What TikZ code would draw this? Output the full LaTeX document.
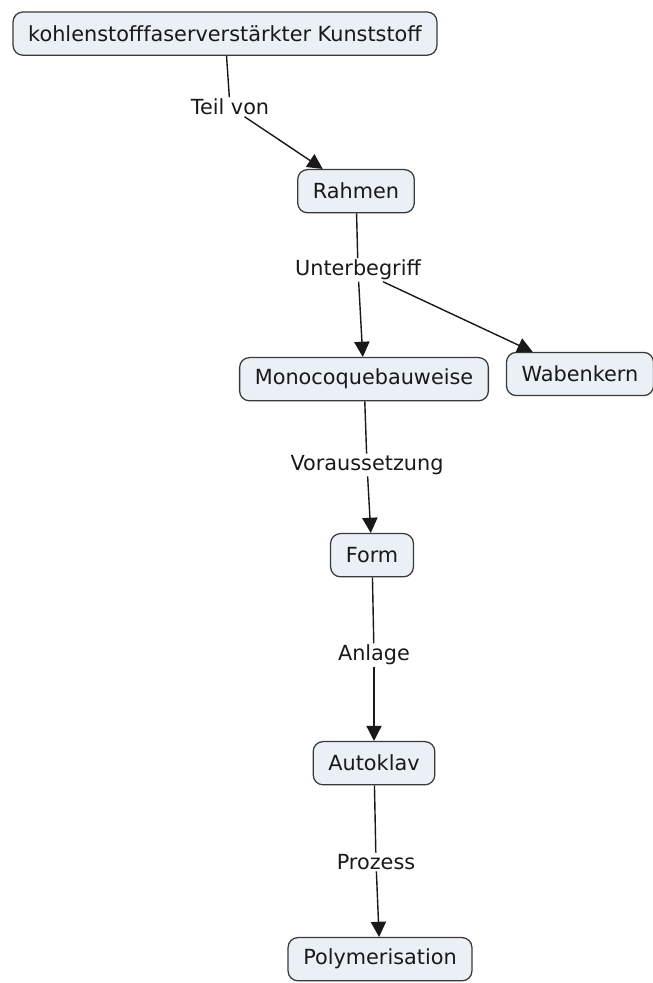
\documentclass[tikz,border=0pt]{standalone}
\usepackage{fontspec}
\setmainfont{DejaVu Sans}
\usepackage{tikz}
\usetikzlibrary{arrows.meta}

\definecolor{conceptfill}{HTML}{EAF0F5}
\definecolor{conceptline}{HTML}{3A3A3A}

\begin{document}
\begin{tikzpicture}[
  concept/.style={draw=conceptline, line width=0.9pt, fill=conceptfill, rounded corners=7pt,
    minimum height=1.08cm, inner xsep=0.38cm, font=\fontsize{14.8}{16}\selectfont, text=black!90},
  linking/.style={inner sep=1pt, font=\fontsize{14.8}{16}\selectfont, text=black!90},
  link/.style={line width=1pt, black!90},
  linkarrow/.style={link, -{Triangle[width=0.38cm,length=0.38cm]}}
]

% Frame
\useasboundingbox (0,0) rectangle (16.3,-24.575);

% Concepts
\node[concept] (kfk) at (5.625,-0.84) {kohlenstofffaserverstärkter Kunststoff};
\node[concept] (rahmen) at (8.9,-4.78) {Rahmen};
\node[concept] (mono) at (9.1,-9.48) {Monocoquebauweise};
\node[concept] (waben) at (14.5,-9.35) {Wabenkern};
\node[concept] (form) at (9.3,-13.88) {Form};
\node[concept] (autoklav) at (9.35,-19.08) {Autoklav};
\node[concept] (poly) at (9.5,-23.98) {Polymerisation};

% Linking phrases
\node[linking] (teilvon) at (5.75,-2.675) {Teil von};
\node[linking] (unterbegriff) at (8.95,-6.75) {Unterbegriff};
\node[linking] (voraus) at (9.175,-11.625) {Voraussetzung};
\node[linking] (anlage) at (9.35,-16.375) {Anlage};
\node[linking] (prozess) at (9.4,-21.55) {Prozess};

% Connectors
\draw[link] (kfk) -- (teilvon);
\draw[linkarrow] (teilvon) -- (rahmen);
\draw[link] (rahmen) -- (unterbegriff);
\draw[linkarrow] (unterbegriff) -- (mono);
\draw[linkarrow] (unterbegriff) -- (waben);
\draw[link] (mono) -- (voraus);
\draw[linkarrow] (voraus) -- (form);
\draw[link] (form) -- (anlage);
\draw[linkarrow] (anlage) -- (autoklav);
\draw[link] (autoklav) -- (prozess);
\draw[linkarrow] (prozess) -- (poly);

\end{tikzpicture}
\end{document}
